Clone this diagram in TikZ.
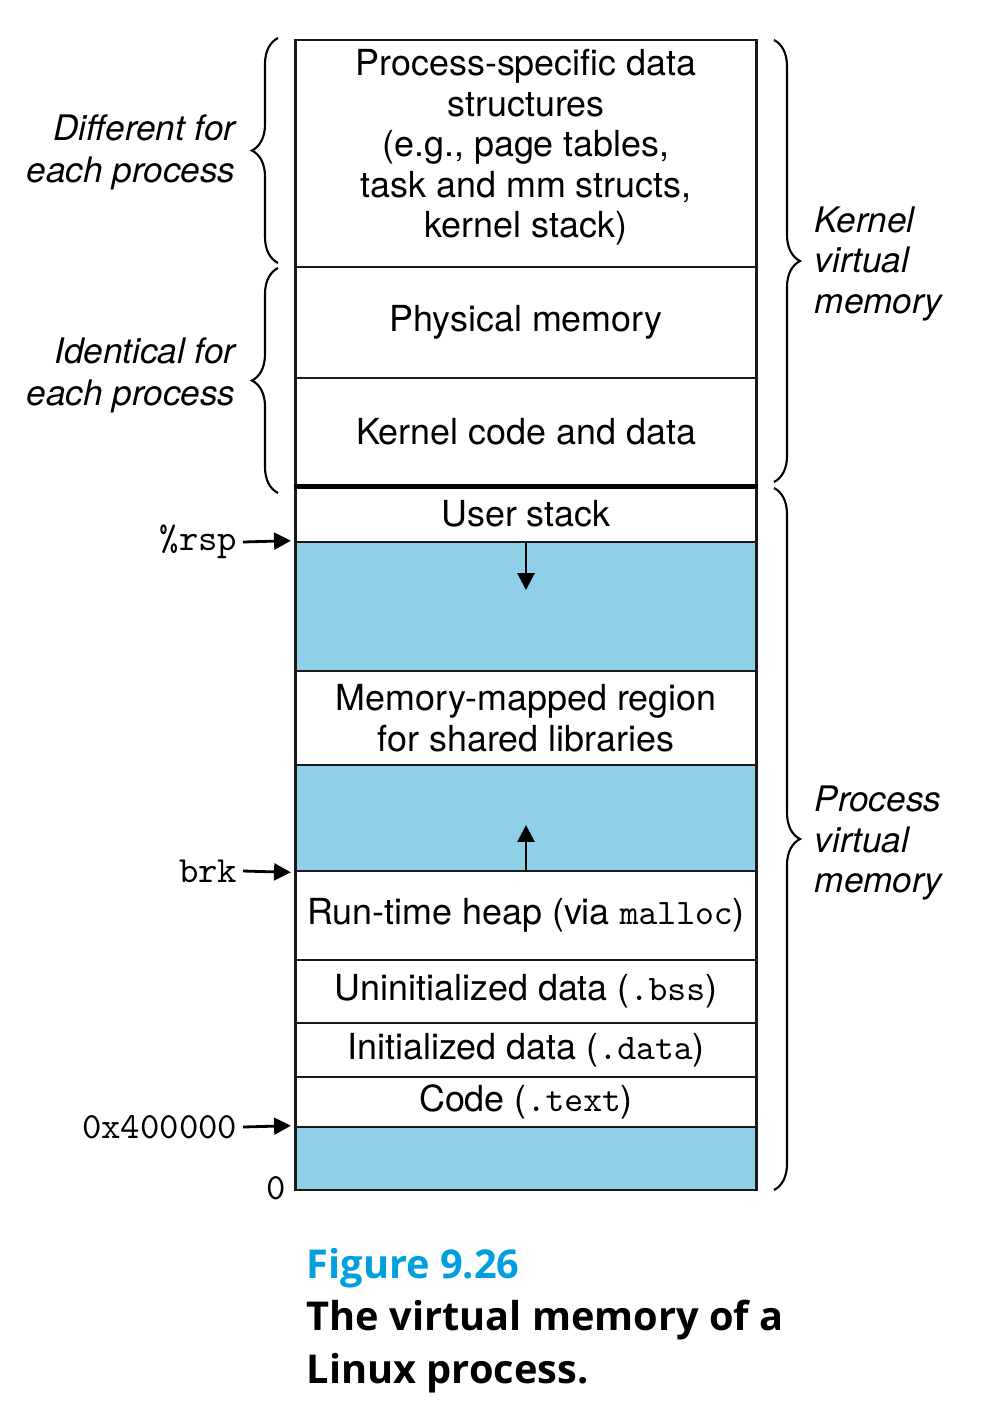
\documentclass[tikz,border=0pt]{standalone}
\usepackage{fontspec}
\setmainfont{TeX Gyre Heros}
\newfontfamily\capfont{Open Sans}
\usepackage{xcolor}
\usetikzlibrary{
    arrows.meta,
    decorations.pathreplacing
}

\definecolor{gapblue}{RGB}{143,208,232}
\definecolor{figcyan}{RGB}{0,160,222}

\begin{document}
\begin{tikzpicture}[
    x=0.01cm, y=-0.01cm,
    font=\fontsize{10.2}{11.5}\selectfont,
    seg/.style={
        rectangle,
        draw=black!90,
        line width=0.8pt,
        align=center,
        minimum width=4.6cm,
        inner sep=0pt,
        fill=white
    },
    gap/.style={
        seg,
        fill=gapblue
    },
    arrow/.style={
        -{Triangle[length=4.8pt,width=4.8pt]},
        line width=0.8pt,
        draw=black
    },
    addr/.style={
        font=\ttfamily\fontsize{10.5}{12}\selectfont,
        inner sep=0.05cm
    },
    side/.style={
        font=\itshape\fontsize{10}{12}\selectfont,
        inner sep=0pt
    },
    brace/.style={
        decorate,
        decoration={brace, amplitude=0.26cm},
        line width=0.6pt
    },
    caption/.style={
        anchor=base west,
        inner sep=0pt,
        align=left,
        font=\capfont\bfseries\fontsize{11.3}{15}\selectfont
    }
]
\useasboundingbox (0,0) rectangle (998,1402);

% =========================================================
% Kernel part of the address space
% =========================================================
\node[seg, minimum height=2.27cm,
    label={[align=center, yshift=0.06cm]center:{Process-specific data\\structures\\(e.g., page tables,\\task and mm structs,\\kernel stack)}}
] (pds) at (526,153.5) {};

\node[seg, minimum height=1.11cm] (phys) at (526,322.5)
{Physical memory};

\node[seg, minimum height=1.07cm] (kcode) at (526,431.5)
{Kernel code and data};

% =========================================================
% Process part of the address space
% =========================================================
\node[seg, minimum height=0.57cm] (ustack) at (526,513.5)
{User stack};

\node[gap, minimum height=1.29cm] (gapa) at (526,606.5) {};

\node[seg, minimum height=0.94cm] (mmap) at (526,718)
{Memory-mapped region\\for shared libraries};

\node[gap, minimum height=1.06cm] (gapb) at (526,818) {};

\node[seg, minimum height=0.89cm] (heap) at (526,915.5)
{Run-time heap (via \texttt{malloc})};

\node[seg, minimum height=0.63cm] (bss) at (526,991.5)
{Uninitialized data (\texttt{.bss})};

\node[seg, minimum height=0.54cm] (data) at (526,1050)
{Initialized data (\texttt{.data})};

\node[seg, minimum height=0.50cm] (text) at (526,1102)
{Code (\texttt{.text})};

\node[gap, minimum height=0.63cm] (gapc) at (526,1158.5) {};

% kernel / user split
\draw[line width=1.6pt] (kcode.south west) -- (kcode.south east);

% =========================================================
% Growth arrows
% =========================================================
\coordinate (stackend) at (526,590);
\coordinate (heapend) at (526,825);
\draw[arrow] (ustack.south) -- (stackend);
\draw[arrow] (gapb.south) -- (heapend);

% =========================================================
% Addresses on the left
% =========================================================
\node[addr, anchor=east] (rsp) at (243,542) {\%rsp};
\node[addr, anchor=east] (brk) at (243,871) {brk};
\node[addr, anchor=east] (base) at (243,1127) {0x400000};
\node[addr, anchor=east] (zero) at (292,1188) {0};

\draw[arrow, shorten >=1pt] (rsp.east) -- (gapa.north west);
\draw[arrow, shorten >=1pt] (brk.east) -- (gapb.south west);
\draw[arrow, shorten >=1pt] (base.east) -- (gapc.north west);

% =========================================================
% Braces and their labels
% =========================================================
\draw[brace] (278,263) -- (278,38);
\draw[brace] (278,493) -- (278,268);
\draw[brace] (774,40) -- (774,482);
\draw[brace] (774,488) -- (774,1190);

\node[side, anchor=east, align=right] (diff) at (236,152)
{Different for\\each process};
\node[side, anchor=east, align=right] (same) at (236,375)
{Identical for\\each process};
\node[side, anchor=west, align=left, font=\itshape\fontsize{10}{11.5}\selectfont] (kvm) at (814,264)
{Kernel\\virtual\\memory};
\node[side, anchor=west, align=left, font=\itshape\fontsize{10}{11.5}\selectfont] (pvm) at (814,843)
{Process\\virtual\\memory};

% =========================================================
% Caption
% =========================================================
\node[caption, text=figcyan] (fignum) at (306,1278) {Figure 9.26};
\node[caption] (captxt) at (306,1383) {The virtual memory of a\\Linux process.};

\end{tikzpicture}
\end{document}
